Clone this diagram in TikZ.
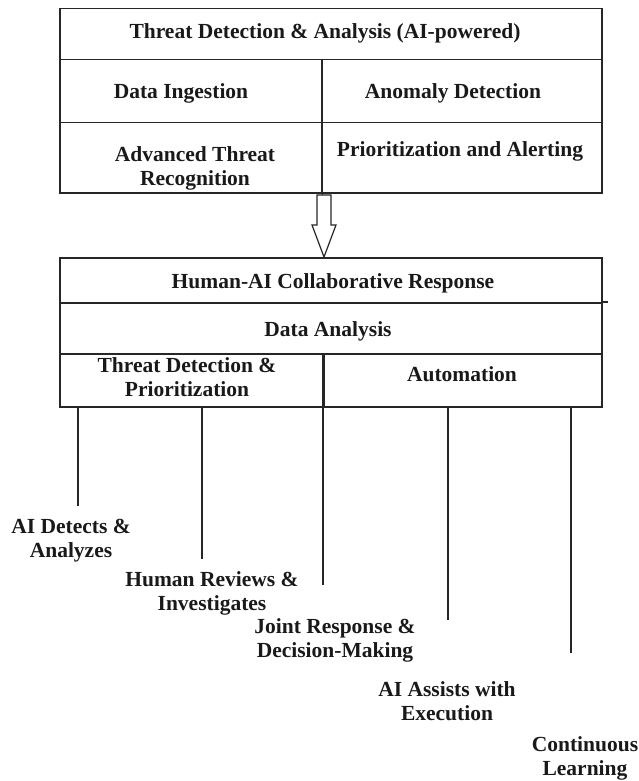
\documentclass[tikz,border=0pt]{standalone}
\usepackage{fontspec}
\setmainfont{Liberation Serif}

\begin{document}
\begin{tikzpicture}[
    x=1pt, y=-1pt,
    font=\bfseries\fontsize{21.5}{24}\selectfont,
    cellbox/.style={
        rectangle,
        draw=black!85,
        line width=1.5pt,
        anchor=north west,
        inner sep=0pt
    },
    celltext/.style={
        anchor=base,
        align=center,
        inner sep=0pt,
        text=black!90
    },
    stem/.style={
        line width=1.5pt,
        draw=black!85
    },
    blockarrow/.style={
        line width=1.2pt,
        draw=black!85,
        fill=white,
        line join=miter
    }
]
\useasboundingbox (0,0) rectangle (639,781);

% =========================================================
% Threat detection table
% =========================================================
\node[cellbox, minimum width=542pt, minimum height=51pt] (ttitle) at (59,8) {};
\node[cellbox, minimum width=262pt, minimum height=63pt] (tingest) at (59,59) {};
\node[cellbox, minimum width=280pt, minimum height=63pt] (tanomaly) at (321,59) {};
\node[cellbox, minimum width=262pt, minimum height=70pt] (trecog) at (59,122) {};
\node[cellbox, minimum width=280pt, minimum height=70pt] (tprior) at (321,122) {};

\node[celltext] (ttitletxt) at (325,39) {Threat Detection \& Analysis (AI-powered)};
\node[celltext] (tingesttxt) at (181,99) {Data Ingestion};
\node[celltext] (tanomalytxt) at (453,99) {Anomaly Detection};
\node[celltext] (trecogtxt) at (195,185) {Advanced Threat\\Recognition};
\node[celltext] (tpriortxt) at (460,157) {Prioritization and Alerting};

% =========================================================
% Human-AI response table
% =========================================================
\node[cellbox, minimum width=542pt, minimum height=45pt] (htitle) at (59,257) {};
\node[cellbox, minimum width=542pt, minimum height=51pt] (hanalysis) at (59,302) {};
\node[cellbox, minimum width=264pt, minimum height=53pt] (hthreat) at (59,353) {};
\node[cellbox, minimum width=278pt, minimum height=53pt] (hauto) at (323,353) {};

\node[celltext] (htitletxt) at (333,288) {Human-AI Collaborative Response};
\node[celltext] (hanalysistxt) at (328,336) {Data Analysis};
\node[celltext] (hthreattxt) at (187,396) {Threat Detection \&\\Prioritization};
\node[celltext] (hautotxt) at (462,381) {Automation};

\draw[stem] (hanalysis.north east) -- ++(5,0);

% =========================================================
% Flow arrow
% =========================================================
\coordinate (arrowtop) at (324,195);
\draw[blockarrow] (arrowtop) ++(-7,0) -- ++(14,0) -- ++(0,30) -- ++(5,0)
    -- (htitle.north -| arrowtop) -- ++(-12,-32) -- ++(5,0) -- cycle;
\draw[stem] (tingest.north east) -- (arrowtop -| tingest.east);

% =========================================================
% Response steps
% =========================================================
\coordinate (end1) at (78,506);
\coordinate (end2) at (202,559);
\coordinate (end3) at (323,585);
\coordinate (end4) at (448,620);
\coordinate (end5) at (571,653);

\draw[stem] (end1 |- hthreat.south) -- (end1);
\draw[stem] (end2 |- hthreat.south) -- (end2);
\draw[stem] (end3 |- hthreat.north) -- (end3);
\draw[stem] (end4 |- hauto.south) -- (end4);
\draw[stem] (end5 |- hauto.south) -- (end5);

\node[celltext] (detects) at (71,557) {AI Detects \&\\Analyzes};
\node[celltext] (reviews) at (212,610) {Human Reviews \&\\Investigates};
\node[celltext] (joint) at (335,657) {Joint Response \&\\Decision-Making};
\node[celltext] (assists) at (447,720) {AI Assists with\\Execution};
\node[celltext] (learning) at (585,775) {Continuous\\Learning};

\end{tikzpicture}
\end{document}
